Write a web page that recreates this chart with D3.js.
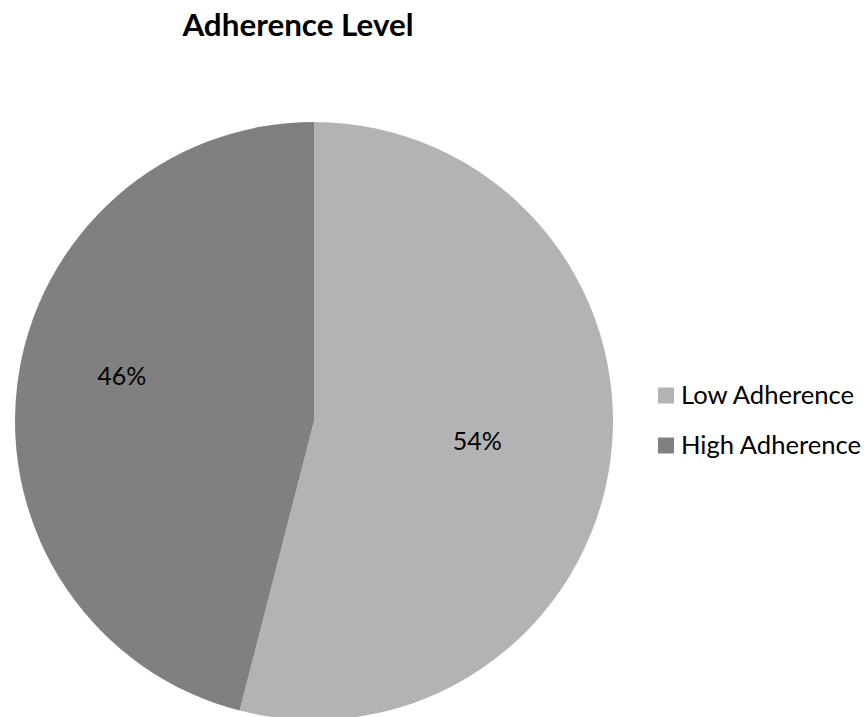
<!DOCTYPE html>
<html>
<head>
<meta charset="utf-8">
<script src="https://cdn.jsdelivr.net/npm/d3@7"></script>
<style>
  html, body { margin: 0; padding: 0; background: #fff; }
  svg { display: block; }
</style>
</head>
<body>
<svg id="chart" width="867" height="717"></svg>
<script>
const categories = ["Low Adherence", "High Adherence"];
const values = [54, 46];
const colors = ["#b3b3b3", "#808080"];
const titleText = "Adherence Level";

const W = 867, H = 717;
const svg = d3.select("#chart");
const cx = 314, cy = 421, R = 299;
const font = "Lato, 'Open Sans', sans-serif";

const data = categories.map((c, i) => ({ cat: c, value: values[i], color: colors[i] }));
const pie = d3.pie().value(d => d.value).sort(null);
const arcs = pie(data);
const arc = d3.arc().innerRadius(0).outerRadius(R);

const g = svg.append("g").attr("transform", `translate(${cx},${cy})`);
g.selectAll("path").data(arcs).enter().append("path")
  .attr("d", arc)
  .attr("fill", d => d.data.color);

// labels
const labelR = [0.55, 0.66];
const labelAngleShift = [0, 6 * Math.PI / 180];
g.selectAll("text.lbl").data(arcs).enter().append("text")
  .attr("class", "lbl")
  .attr("transform", (d, i) => {
    const a = (d.startAngle + d.endAngle) / 2 + labelAngleShift[i];
    const r = R * labelR[i];
    return `translate(${r * Math.sin(a)},${-r * Math.cos(a)})`;
  })
  .attr("text-anchor", "middle")
  .attr("dy", "0.35em")
  .attr("font-family", font)
  .attr("font-size", 25)
  .attr("fill", "#000")
  .text(d => d.data.value + "%");

// title
svg.append("text")
  .attr("x", 298).attr("y", 36)
  .attr("text-anchor", "middle")
  .attr("font-family", font)
  .attr("font-weight", "bold")
  .attr("font-size", 31.4)
  .attr("fill", "#000")
  .text(titleText);

// legend
const ly = d3.scalePoint().domain(categories).range([395.5, 445.5]);
const lg = svg.append("g");
const items = lg.selectAll("g").data(data).enter().append("g")
  .attr("transform", d => `translate(658,${ly(d.cat)})`);
items.append("rect")
  .attr("x", 0).attr("y", -8).attr("width", 16).attr("height", 16)
  .attr("fill", d => d.color);
items.append("text")
  .attr("x", 23).attr("y", 0)
  .attr("dy", "0.35em")
  .attr("font-family", font)
  .attr("font-size", 25.6)
  .attr("fill", "#000")
  .text(d => d.cat);
</script>
</body>
</html>
